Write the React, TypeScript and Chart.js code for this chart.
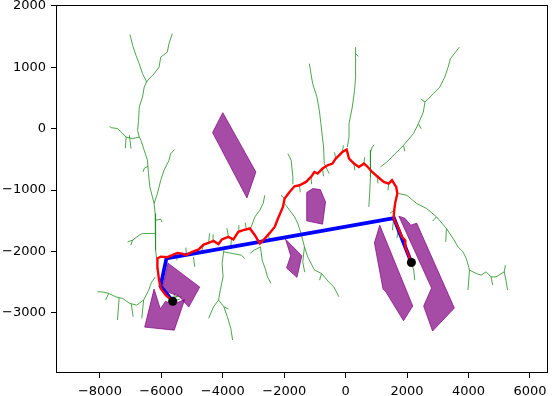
import React, { useEffect, useRef } from 'react';
import { Chart, registerables } from 'chart.js';

Chart.register(...registerables);

type P = [number, number];

const xTicks = [-8000, -6000, -4000, -2000, 0, 2000, 4000, 6000];
const yTicks = [-3000, -2000, -1000, 0, 1000, 2000];

const startPoint: P = [-5630, -2810];
const goalPoint: P = [2140, -2180];

const obstacle1: P[] = [[-4000, 260], [-2923, -706], [-3213, -1128], [-4333, -65]];
const obstacle2: P[] = [[-1268, -1041], [-1074, -976], [-826, -992], [-655, -1193], [-752, -1556], [-1268, -1502]];
const obstacle3: P[] = [[-1958, -1800], [-1426, -2070], [-1585, -2421], [-1924, -2270], [-1789, -2070]];
const obstacle4: P[] = [[-5784, -2190], [-4752, -2580], [-5107, -2906], [-5429, -2727], [-5978, -2629]];
const obstacle5: P[] = [[-6237, -2611], [-6034, -2935], [-5864, -2811], [-5637, -2865], [-5241, -2784], [-5581, -3281], [-6543, -3232]];
const obstacle6: P[] = [[1110, -1572], [2184, -2889], [1884, -3128], [1313, -2662], [1216, -2613], [936, -1860]];
const obstacle7: P[] = [[1732, -1426], [1926, -1459], [2119, -1572], [2313, -1540], [3539, -2922], [2829, -3296], [2539, -2889], [2797, -2597]];

const smoothPath: P[] = [[-5630, -2810], [-6026, -2564], [-5833, -2114], [1571, -1459], [2140, -2180]];

const rawPath: P[] = [
  [-5630, -2810], [-5858, -2711], [-6020, -2602], [-6075, -2467], [-6123, -2272], [-6129, -2114], [-6020, -2085],
  [-5807, -2093], [-5646, -2060], [-5484, -2023], [-5323, -2036], [-5187, -2060], [-5000, -2006], [-4784, -1967],
  [-4623, -1889], [-4462, -1860], [-4300, -1828], [-4139, -1881], [-4033, -1805], [-3816, -1763], [-3655, -1805],
  [-3494, -1681], [-3332, -1654], [-3116, -1626], [-2955, -1735], [-2794, -1870], [-2632, -1789], [-2471, -1698],
  [-2310, -1600], [-2203, -1463], [-2042, -1275], [-1987, -1138], [-1826, -1031], [-1665, -938], [-1503, -922],
  [-1290, -868], [-1129, -787], [-1019, -706], [-913, -732], [-752, -650], [-590, -597], [-429, -569], [-323, -488],
  [-213, -434], [-106, -380], [32, -341], [110, -488], [271, -569], [432, -624], [594, -569], [700, -613], [861, -706],
  [1023, -776], [1239, -868], [1400, -894], [1507, -841], [1645, -950], [1684, -1057], [1619, -1193], [1581, -1328],
  [1561, -1463], [1723, -1626], [1829, -1763], [1936, -1816], [1942, -1925], [2045, -2060], [2140, -2180],
];

const treeA1: P[] = [[-7020, 1533], [-6936, 1355], [-6826, 1192], [-6720, 1057], [-6613, 894], [-6504, 785], [-6484, 758]];
const treeA2: P[] = [[-5645, 1545], [-5752, 1382], [-5807, 1246], [-6020, 1164], [-6074, 1002], [-6236, 894], [-6397, 813], [-6484, 758]];
const treeA3: P[] = [[-6484, 758], [-6558, 676], [-6613, 514], [-6720, 351], [-6742, 135], [-6774, -28], [-6720, -137], [-6665, -190], [-6558, -353], [-6452, -516], [-6420, -732], [-6374, -950], [-6291, -1112], [-6236, -1220], [-6203, -1382], [-6181, -1491], [-6203, -1707], [-6181, -1979], [-6155, -2109]];
const treeA4: P[] = [[-6720, -137], [-6936, -163], [-7149, -137], [-7310, -55], [-7420, 0], [-7633, 16], [-7687, 37]];
const treeA5: P[] = [[-6236, -1220], [-6129, -1057], [-6020, -841], [-5913, -678], [-5752, -516], [-5697, -407], [-5568, -341]];
const treeA6: P[] = [[-6203, -1707], [-6613, -1707], [-6720, -1735], [-6936, -1816], [-7097, -1844]];
const treeLL: P[] = [[-6203, -2418], [-6333, -2515], [-6410, -2629], [-6578, -2792], [-6807, -2873], [-7033, -2846], [-7262, -2764], [-7488, -2738], [-7713, -2683], [-7942, -2657], [-8078, -2657]];
const treeB: P[] = [[-3965, -1979], [-4023, -2195], [-3990, -2413], [-4081, -2629], [-4139, -2792], [-3965, -2901], [-3852, -3063], [-3739, -3252], [-3681, -3442]];
const treeC: P[] = [[-3116, -1654], [-2955, -1437], [-2794, -1328], [-2687, -1220], [-2632, -1085]];
const treeD: P[] = [[-2774, -1925], [-2719, -2141], [-2603, -2304], [-2545, -2413], [-2432, -2520]];
const treeE: P[] = [[-1987, -1220], [-1826, -1328], [-1665, -1437], [-1558, -1545], [-1452, -1707], [-1342, -1925], [-1235, -2088], [-1013, -2304], [-787, -2358], [-558, -2494], [-387, -2576], [-219, -2738]];
const treeF: P[] = [[-1719, -906], [-1719, -787], [-1774, -516], [-1881, -407]];
const treeG: P[] = [[-697, -569], [-719, -299], [-806, 81], [-858, 298], [-935, 514], [-1074, 732], [-1129, 894], [-1181, 1057]];
const treeH: P[] = [[55, -299], [110, -137], [110, 81], [216, 351], [290, 623], [323, 839], [323, 1110], [323, 1327]];
const treeI: P[] = [[807, -353], [807, -569], [807, -787], [787, -1003], [755, -1275]];
const treeJ: P[] = [[1129, -624], [1345, -543], [1613, -407], [1884, -272], [2207, -81], [2368, 81], [2529, 270], [2581, 432], [2852, 569], [3065, 676], [3226, 839], [3336, 1002], [3410, 1138], [3549, 1229], [3700, 1327]];
const treeK: P[] = [[1723, -1057], [1991, -1085], [2313, -1220], [2636, -1301], [2958, -1437], [3281, -1626], [3497, -1789], [3658, -1925], [3820, -2007], [3926, -2114], [4033, -2304], [4249, -2358], [4410, -2385], [4571, -2332], [4733, -2413], [4894, -2413], [5162, -2332], [5217, -2467], [5271, -2629]];
const treeL: P[] = [[2140, -2180], [2216, -2304], [2249, -2467]];

const twigs: P[][] = [
  [[-7149, -137], [-7171, -320]], [[-7042, -109], [-6987, -325]], [[-6936, -1816], [-6994, -1898]],
  [[-6181, -1491], [-6020, -1475], [-5978, -1524]], [[-6429, -613], [-6558, -646], [-6591, -703]],
  [[-7375, -2759], [-7429, -3117]], [[-6978, -2857], [-6920, -3063]], [[-6578, -2792], [-6636, -3089]], [[-7713, -2683], [-7816, -2792]],
  [[-4139, -2792], [-4300, -2901], [-4461, -3089]], [[-3965, -2901], [-3816, -2938]], [[-3965, -2007], [-3397, -2060], [-3284, -2114]],
  [[-2774, -1925], [-2977, -1979], [-3106, -2028]], [[-1342, -1925], [-1397, -2174], [-1332, -2337]], [[-787, -2358], [-848, -2467]],
  [[-697, -569], [-536, -732]], [[323, 1224], [410, 1176]], [[807, -385], [862, -304], [926, -264]],
  [[2368, 81], [2458, -3]], [[2581, 432], [2442, 485]], [[1884, -272], [1926, -369]],
  [[4033, -2304], [3981, -2629]], [[4733, -2413], [4787, -2548]], [[3281, -1626], [3258, -1844]], [[5162, -2332], [5200, -2223]], [[2958, -1437], [2829, -1507]],
  [[-5630, -2810], [-5462, -2711]], [[-5630, -2810], [-5397, -2776]], [[-5630, -2810], [-5558, -2678]], [[-5630, -2810], [-5752, -2694]], [[-5558, -2727], [-5332, -2743]],
  [[-4623, -1889], [-4687, -1995]], [[-4300, -1828], [-4316, -1719]], [[-3719, -1784], [-3736, -1914]], [[-3494, -1681], [-3478, -1572]],
  [[-3236, -1637], [-3268, -1532]], [[-1503, -922], [-1477, -1036]], [[-1129, -787], [-1106, -906]], [[-752, -650], [-719, -776]],
  [[-106, -380], [-74, -272]], [[271, -569], [297, -678]], [[594, -569], [619, -467]], [[1023, -776], [1055, -890]],
  [[1400, -894], [1378, -1003]], [[1581, -1328], [1442, -1377]], [[1561, -1463], [1523, -1654]], [[1723, -1626], [1668, -1784]],
  [[-5187, -2060], [-5203, -1938]], [[-5484, -2023], [-5494, -2141]], [[-4955, -2088], [-4913, -2250]], [[-1987, -1138], [-2106, -1085]],
  [[-323, -488], [-364, -385]], [[-2526, -1719], [-2461, -1833]], [[-4462, -1860], [-4429, -1703]], [[-3816, -1763], [-3865, -1621]],
];

const treeBranches: P[][] = [treeA1, treeA2, treeA3, treeA4, treeA5, treeA6, treeLL, treeB, treeC, treeD, treeE, treeF, treeG, treeH, treeI, treeJ, treeK, treeL, ...twigs];
const obstacles: P[][] = [obstacle1, obstacle2, obstacle3, obstacle4, obstacle5, obstacle6, obstacle7];

const toXY = (pts: P[]) => pts.map(([x, y]) => ({ x, y }));
const fmt = (v: number) => (v < 0 ? '\u2212' + Math.abs(v) : String(v));

export default function App() {
  const ref = useRef<HTMLCanvasElement>(null);
  useEffect(() => {
    document.body.style.margin = '0';
    const canvas = ref.current;
    if (!canvas) return;
    const green = treeBranches.map((b) => ({
      data: toXY(b), showLine: true, pointRadius: 0, borderColor: '#1f8f1f', borderWidth: 0.8, fill: false, order: 5,
    }));
    const polys = obstacles.map((p) => ({
      data: toXY([...p, p[0]]), showLine: true, pointRadius: 0, borderColor: 'rgba(128,0,128,0.7)',
      backgroundColor: 'rgba(128,0,128,0.7)', borderWidth: 1, fill: 'shape', order: 4,
    }));
    const frame = {
      id: 'frame',
      afterDraw(chart: any) {
        const { ctx, chartArea: a } = chart;
        ctx.save();
        ctx.strokeStyle = '#000';
        ctx.lineWidth = 1;
        const l = Math.round(a.left), t = Math.round(a.top), r = Math.round(a.right), b = Math.round(a.bottom);
        ctx.strokeRect(l + 0.5, t + 0.5, r - l - 1, b - t - 1);
        ctx.restore();
      },
    };
    const tickFont = { family: 'DejaVu Sans', size: 13 };
    const chart = new Chart(canvas, {
      type: 'scatter',
      data: {
        datasets: [
          ...green,
          ...polys,
          { data: toXY(smoothPath), showLine: true, pointRadius: 0, borderColor: '#0000ff', borderWidth: 3.8, fill: false, order: 3 },
          { data: toXY(rawPath), showLine: true, pointRadius: 0, borderColor: '#ff0000', borderWidth: 2.4, fill: false, order: 2 },
          { data: toXY([startPoint, goalPoint]), showLine: false, pointRadius: 4.5, pointBackgroundColor: '#000', pointBorderColor: '#000', borderWidth: 0, order: 1 },
        ] as any,
      },
      options: {
        animation: false,
        responsive: false,
        events: [],
        layout: { padding: { top: 4, right: 0, bottom: 0, left: 0 } },
        plugins: { legend: { display: false }, tooltip: { enabled: false } },
        scales: {
          x: {
            type: 'linear', min: -9430, max: 6571,
            afterBuildTicks: (s: any) => { s.ticks = xTicks.map((v) => ({ value: v })); },
            afterFit: (s: any) => { s.height = 23; s.paddingLeft = 0; s.paddingRight = 0; },
            ticks: { callback: (v: any) => fmt(Number(v)), font: tickFont, color: '#000', padding: 6, maxRotation: 0, autoSkip: false },
            grid: { display: true, drawOnChartArea: false, drawTicks: true, tickLength: 5, color: '#000', lineWidth: 1 },
            border: { display: false },
          },
          y: {
            type: 'linear', min: -3979, max: 2021,
            afterBuildTicks: (s: any) => { s.ticks = yTicks.map((v) => ({ value: v })); },
            afterFit: (s: any) => { s.width = 56; s.paddingTop = 0; s.paddingBottom = 0; },
            ticks: { callback: (v: any) => fmt(Number(v)), font: tickFont, color: '#000', padding: 5, autoSkip: false },
            grid: { display: true, drawOnChartArea: false, drawTicks: true, tickLength: 5, color: '#000', lineWidth: 1 },
            border: { display: false },
          },
        },
      } as any,
      plugins: [frame],
    });
    return () => chart.destroy();
  }, []);
  return (
    <div style={{ position: 'absolute', left: 0, top: 0, width: 552, height: 396 }}>
      <canvas ref={ref} width={552} height={396} style={{ display: 'block' }} />
    </div>
  );
}
